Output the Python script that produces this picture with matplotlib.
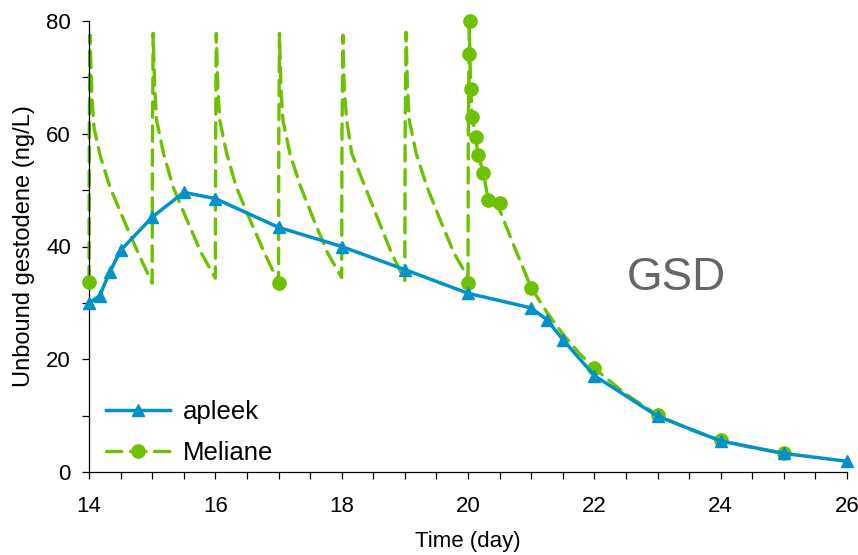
import matplotlib
matplotlib.use("Agg")
import matplotlib.pyplot as plt
from matplotlib.lines import Line2D
from matplotlib.ticker import MultipleLocator

plt.rcParams['font.family'] = ['Liberation Sans', 'DejaVu Sans']

# apleek (triangles, solid)
apleek_t = [14, 14.17, 14.33, 14.5, 15, 15.5, 16, 17, 18, 19, 20, 21, 21.25, 21.5, 22, 23, 24, 25, 26]
apleek_y = [29.9, 31.3, 35.5, 39.3, 45.2, 49.6, 48.5, 43.4, 40.0, 35.9, 31.7, 29.1, 27.0, 23.5, 17.1, 9.9, 5.5, 3.3, 1.9]

# Meliane observed points (circles)
meliane_t = [14, 17, 20, 20.01, 20.027, 20.043, 20.068, 20.122, 20.159, 20.243, 20.322, 20.5,
             21, 22, 23, 24, 25]
meliane_y = [33.7, 33.6, 33.6, 74.2, 80.0, 67.9, 62.9, 59.5, 56.2, 53.1, 48.2, 47.7,
             32.7, 18.4, 10.1, 5.6, 3.3]

# Meliane dashed profile (daily dosing days 14-20, then washout)
curve_t = [14.0, 14.005, 14.015, 14.03, 14.05, 14.08, 14.18, 14.33, 14.55, 14.78,
           15.0, 15.005, 15.015, 15.04, 15.07, 15.18, 15.33, 15.55, 15.78,
           16.0, 16.005, 16.015, 16.04, 16.07, 16.18, 16.33, 16.55, 16.78,
           17.0, 17.005, 17.015, 17.04, 17.07, 17.18, 17.35, 17.56, 17.78,
           18.0, 18.005, 18.02, 18.04, 18.08, 18.16, 18.37, 18.58, 18.79,
           19.0, 19.005, 19.02, 19.04, 19.07, 19.18, 19.35, 19.56, 19.78,
           20.0, 20.005, 20.02, 20.03, 20.043, 20.068, 20.122, 20.159, 20.243, 20.322, 20.5, 20.75,
           21.0, 21.25, 21.5, 21.75, 22.0, 22.5, 23.0, 23.5, 24.0, 24.5, 25.0]
curve_y = [33.7, 60, 77.5, 72, 66, 61, 56, 50.6, 44.7, 38.8,
           33.5, 60, 77.8, 68.3, 62.4, 56.5, 50.6, 44.7, 38.8,
           34.4, 60, 77.8, 68.0, 62.4, 56.5, 50.6, 44.7, 38.8,
           33.6, 60, 77.8, 68.0, 62.4, 56.5, 50.6, 44.7, 38.8,
           34.5, 60, 77.5, 68.0, 62.4, 56.5, 50.6, 44.7, 38.8,
           34.0, 60, 78.0, 68.5, 62.4, 56.5, 50.6, 44.7, 38.8,
           34.5, 60, 79.0, 74.0, 67.9, 62.9, 59.5, 56.2, 53.1, 48.2, 46.5, 39.5,
           32.7, 28.3, 24.5, 21.2, 18.4, 13.8, 10.1, 7.6, 5.6, 4.3, 3.3]

blue = '#0092c8'
green = '#6cc200'

fig = plt.figure(figsize=(8.58, 5.55), dpi=100)
ax = fig.add_axes([89 / 858, 83 / 555, 758 / 858, 451 / 555])

dash = (4.6, 2.6)
ax.plot(curve_t, curve_y, color=green, lw=2.4, dashes=dash, dash_capstyle='round',
        clip_on=False, zorder=2)
ax.plot(meliane_t, meliane_y, 'o', color=green, ms=9.5, clip_on=False, zorder=3)
ax.plot(apleek_t, apleek_y, '-^', color=blue, lw=2.5, ms=9, clip_on=False, zorder=4)

ax.set_xlim(14, 26)
ax.set_ylim(0, 80)
ax.xaxis.set_major_locator(MultipleLocator(2))
ax.xaxis.set_minor_locator(MultipleLocator(0.5))
ax.yaxis.set_major_locator(MultipleLocator(20))
ax.yaxis.set_minor_locator(MultipleLocator(10))
ax.tick_params(which='both', direction='out', length=5, width=0.9, labelsize=16)
ax.tick_params(axis='x', pad=12)
ax.tick_params(axis='y', pad=8)
for s in ['top', 'right']:
    ax.spines[s].set_visible(False)
for s in ['left', 'bottom']:
    ax.spines[s].set_linewidth(0.9)

ax.set_xlabel('Time (day)', fontsize=16, labelpad=10)
ax.set_ylabel('Unbound gestodene (ng/L)', fontsize=17, labelpad=8)

ax.text(676, 277, 'GSD', transform=None, fontsize=33, color='#666666',
        ha='center', va='center')

handles = [Line2D([], [], color=blue, lw=2.5, marker='^', ms=9),
           Line2D([], [], color=green, lw=2.4, dashes=dash, dash_capstyle='round',
                  marker='o', ms=9.5)]
ax.legend(handles, ['apleek', 'Meliane'], loc='center left', bbox_to_anchor=(0.0225, 0.088),
          frameon=False, fontsize=18.5, handlelength=2.5, handletextpad=0.5,
          labelspacing=0.68, borderpad=0, borderaxespad=0)

fig.savefig('out.png', dpi=100)
